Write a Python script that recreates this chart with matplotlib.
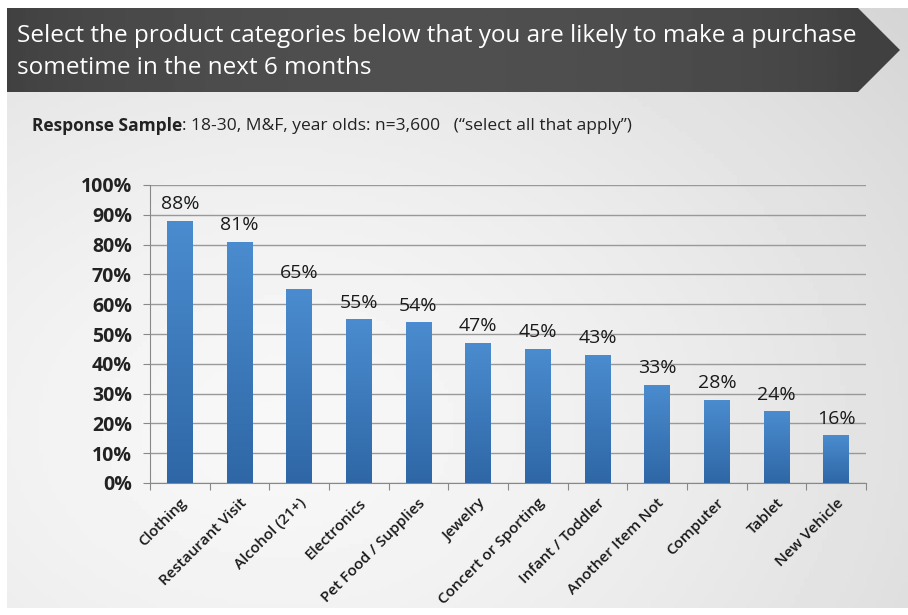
import numpy as np
import matplotlib.pyplot as plt
from matplotlib.patches import Polygon
from matplotlib.colors import LinearSegmentedColormap

categories = ["Clothing", "Restaurant Visit", "Alcohol (21+)", "Electronics",
              "Pet Food / Supplies", "Jewelry", "Concert or Sporting",
              "Infant / Toddler", "Another Item Not", "Computer", "Tablet",
              "New Vehicle"]
values = [88, 81, 65, 55, 54, 47, 45, 43, 33, 28, 24, 16]
yticks = [0, 10, 20, 30, 40, 50, 60, 70, 80, 90, 100]

title = "Select the product categories below that you are likely to make a purchase\nsometime in the next 6 months"

W, H = 908, 615
fig = plt.figure(figsize=(W / 100, H / 100), dpi=100)
fig.patch.set_facecolor("white")

# slide background: soft gray, lighter toward the lower left
bg = fig.add_axes([0, 0, 1, 1])
bg.set_xlim(0, W)
bg.set_ylim(H, 0)
bg.axis("off")
gx, gy = np.meshgrid(np.linspace(0, 1, 200), np.linspace(0, 1, 140))
d = np.sqrt((gx - 0.3) ** 2 * 1.0 + (gy - 0.7) ** 2 * 0.8)
shade = 0.97 - 0.15 * np.clip(d, 0, 1) ** 1.5
bg.imshow(shade, cmap="gray", vmin=0, vmax=1, extent=[7, W, 608, 8],
          aspect="auto", zorder=0)

# title banner with arrow tip
banner = Polygon([[7, 8], [858, 8], [900, 50], [858, 92], [7, 92]],
                 closed=True, facecolor="none", edgecolor="none")
bg.add_patch(banner)
bx = np.linspace(0, 1, 300)
band = 0.25 + 0.06 * np.sin(np.pi * np.clip(bx * 1.05, 0, 1)) ** 0.6
band = np.tile(band, (20, 1))
im = bg.imshow(band, cmap="gray", vmin=0, vmax=1, extent=[7, 900, 92, 8],
               aspect="auto", zorder=1)
im.set_clip_path(banner)
bg.text(17, 52, title, color="white", fontsize=17.5, family="Open Sans",
        va="center", ha="left", linespacing=1.4, zorder=2)

# sample note
t1 = bg.text(32, 126, "Response Sample", fontsize=12.5, family="Open Sans",
             weight="bold", color="#222222", va="center", zorder=2)
fig.canvas.draw()
bb = t1.get_window_extent()
bg.text(bb.x1, H - 126,
        ": 18-30, M&F, year olds: n=3,600   (\u201cselect all that apply\u201d)",
        fontsize=12.5, family="Open Sans", color="#222222", va="center",
        transform=None, zorder=2)

# chart
ax = fig.add_axes([150 / W, 1 - 483 / H, 716 / W, 298 / H])
ax.patch.set_alpha(0)
x = np.arange(len(categories))
bars = ax.bar(x, values, width=0.43, color="#3d7cc0", zorder=3)

# vertical gradient inside each bar
grad = np.linspace(0, 1, 100).reshape(-1, 1)
bar_cmap = LinearSegmentedColormap.from_list("bar", ["#2f67a6", "#4a8ccf"])
for b in bars:
    x0, w, h = b.get_x(), b.get_width(), b.get_height()
    gim = ax.imshow(grad, cmap=bar_cmap, extent=[x0, x0 + w, 0, h],
                    origin="lower", aspect="auto", zorder=4)
    gim.set_clip_path(b)

for xi, v in zip(x, values):
    ax.text(xi, v + 2.5, f"{v}%", ha="center", va="bottom", fontsize=14,
            family="Open Sans", color="#1a1a1a", zorder=5)

ax.set_xlim(-0.5, len(categories) - 0.5)
ax.set_ylim(0, 100)
ax.set_yticks(yticks)
ax.set_yticklabels([f"{t}%" for t in yticks], fontsize=14,
                   family="Open Sans", weight="bold", color="#222222")
ax.yaxis.grid(True, color="#999999", linewidth=1, zorder=1)
ax.set_axisbelow(True)

ax.set_xticks(np.arange(len(categories) + 1) - 0.5)
ax.set_xticklabels([])
ax.tick_params(axis="x", length=5, color="#888888")
ax.tick_params(axis="y", length=5, color="#888888", pad=8)
for xi, c in zip(x, categories):
    ax.text(xi + 0.08, -6, c, rotation=45, ha="right", va="center",
            rotation_mode="anchor", fontsize=11, family="Open Sans",
            weight="semibold", color="#1a1a1a")

for s in ["top", "right"]:
    ax.spines[s].set_visible(False)
ax.spines["left"].set_color("#888888")
ax.spines["bottom"].set_color("#888888")

fig.savefig("out.png", dpi=100)
